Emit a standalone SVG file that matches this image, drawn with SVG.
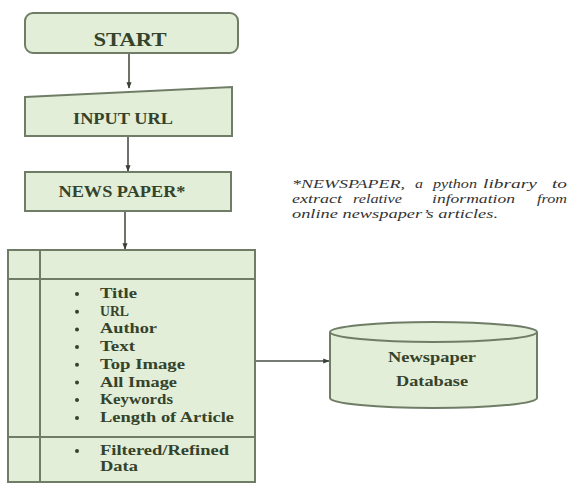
<svg xmlns="http://www.w3.org/2000/svg" width="571" height="485" viewBox="0 0 571 485">
<style>
.shape{fill:#e3eed8;stroke:#6f7d66;stroke-width:2}
.line{fill:none;stroke:#6f7d66;stroke-width:2}
.lbl{font-family:"Liberation Serif","Times New Roman",serif;font-weight:bold;fill:#34432b}
.conn{fill:none;stroke:#4a4f47;stroke-width:1.6;marker-end:url(#ah)}
.note{font-family:"Liberation Serif","Times New Roman",serif;font-style:italic;font-size:13.5px;fill:#333333}
</style>
<defs>
<marker id="ah" viewBox="0 0 10 10" refX="9" refY="5" markerWidth="4" markerHeight="4" orient="auto" markerUnits="strokeWidth">
<path d="M0,1 L10,5 L0,9 Z" fill="#3a3f37"/>
</marker>
</defs>
<rect width="571" height="485" fill="#ffffff"/>

<g id="connectors">
<line class="conn" x1="129" y1="53" x2="129" y2="88"/>
<line class="conn" x1="128" y1="136" x2="128" y2="171"/>
<line class="conn" x1="125" y1="211" x2="125" y2="249"/>
<line class="conn" x1="255" y1="361" x2="329" y2="361"/>
</g>

<g id="start">
<rect class="shape" x="25" y="13" width="213" height="40" rx="8"/>
<text class="lbl" x="130" y="46" font-size="19" text-anchor="middle" textLength="73" lengthAdjust="spacingAndGlyphs">START</text>
</g>

<g id="input-url">
<path class="shape" d="M25,97 L232,87 L232,136 L25,136 Z"/>
<text class="lbl" x="123" y="124" font-size="16" text-anchor="middle" textLength="100" lengthAdjust="spacingAndGlyphs">INPUT URL</text>
</g>

<g id="newspaper">
<rect class="shape" x="25" y="172" width="206" height="39"/>
<text class="lbl" x="122" y="197" font-size="16" text-anchor="middle" textLength="127" lengthAdjust="spacingAndGlyphs">NEWS PAPER*</text>
</g>

<g id="note" class="note">
<text x="292" y="188" textLength="113" lengthAdjust="spacingAndGlyphs">*NEWSPAPER,</text>
<text x="415" y="188" textLength="8" lengthAdjust="spacingAndGlyphs">a</text>
<text x="433" y="188" textLength="44" lengthAdjust="spacingAndGlyphs">python</text>
<text x="483" y="188" textLength="54" lengthAdjust="spacingAndGlyphs">library</text>
<text x="552" y="188" textLength="15" lengthAdjust="spacingAndGlyphs">to</text>
<text x="292" y="203" textLength="50" lengthAdjust="spacingAndGlyphs">extract</text>
<text x="353" y="203" textLength="49" lengthAdjust="spacingAndGlyphs">relative</text>
<text x="432" y="203" textLength="83" lengthAdjust="spacingAndGlyphs">information</text>
<text x="537" y="203" textLength="30" lengthAdjust="spacingAndGlyphs">from</text>
<text x="292" y="218" textLength="206" lengthAdjust="spacingAndGlyphs">online newspaper’s articles.</text>
</g>

<g id="attributes">
<rect class="shape" x="8" y="250" width="247" height="232"/>
<line class="line" x1="40" y1="250" x2="40" y2="482"/>
<line class="line" x1="8" y1="279" x2="255" y2="279"/>
<line class="line" x1="8" y1="437" x2="255" y2="437"/>
<g fill="#34432b">
<circle cx="77" cy="294" r="2"/>
<circle cx="77" cy="311.7" r="2"/>
<circle cx="77" cy="329.4" r="2"/>
<circle cx="77" cy="347" r="2"/>
<circle cx="77" cy="364.8" r="2"/>
<circle cx="77" cy="382.5" r="2"/>
<circle cx="77" cy="400" r="2"/>
<circle cx="77" cy="418" r="2"/>
<circle cx="77" cy="451" r="2"/>
</g>
<g class="lbl" font-size="14.5">
<text x="100" y="298" textLength="37" lengthAdjust="spacingAndGlyphs">Title</text>
<text x="100" y="315.7" textLength="29" lengthAdjust="spacingAndGlyphs">URL</text>
<text x="100" y="333.4" textLength="57" lengthAdjust="spacingAndGlyphs">Author</text>
<text x="100" y="351" textLength="35" lengthAdjust="spacingAndGlyphs">Text</text>
<text x="100" y="368.8" textLength="85" lengthAdjust="spacingAndGlyphs">Top Image</text>
<text x="100" y="386.5" textLength="77" lengthAdjust="spacingAndGlyphs">All Image</text>
<text x="100" y="404" textLength="73" lengthAdjust="spacingAndGlyphs">Keywords</text>
<text x="100" y="422" textLength="134" lengthAdjust="spacingAndGlyphs">Length of Article</text>
<text x="100" y="455" textLength="129" lengthAdjust="spacingAndGlyphs">Filtered/Refined</text>
<text x="100" y="471" textLength="38" lengthAdjust="spacingAndGlyphs">Data</text>
</g>
</g>

<g id="database">
<path class="shape" d="M330,332 L330,398 A103.5,10 0 0 0 537,398 L537,332"/>
<ellipse class="shape" cx="433.5" cy="332" rx="103.5" ry="10"/>
<text class="lbl" x="432" y="362" font-size="14" text-anchor="middle" textLength="88" lengthAdjust="spacingAndGlyphs">Newspaper</text>
<text class="lbl" x="432" y="386" font-size="14" text-anchor="middle" textLength="72" lengthAdjust="spacingAndGlyphs">Database</text>
</g>
</svg>
